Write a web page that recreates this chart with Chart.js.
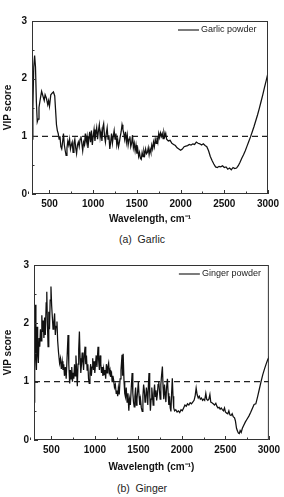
<!DOCTYPE html>
<html>
<head>
<meta charset="utf-8">
<script src="https://cdn.jsdelivr.net/npm/chart.js@4.4.1/dist/chart.umd.min.js"></script>
<style>
  html, body { margin: 0; padding: 0; background: #fff; }
  .page { position: relative; width: 284px; height: 497px; overflow: hidden; }
  .panel { position: absolute; left: 0; width: 284px; height: 228px; }
  .caption {
    position: absolute; left: 0; width: 284px; text-align: center;
    font: 10.5px 'Liberation Sans', Arial, sans-serif; color: #222; line-height: 12px;
    white-space: pre;
  }
</style>
</head>
<body>
<div class="page">
  <div class="panel" style="top:0"><canvas id="garlicChart"></canvas></div>
  <div class="caption" style="top:233px">(a)  Garlic</div>
  <div class="panel" style="top:250px"><canvas id="gingerChart"></canvas></div>
  <div class="caption" style="top:482px">(b)  Ginger</div>
</div>
<script>
// tick labels
const xTicks = [500, 1000, 1500, 2000, 2500, 3000];
const yTicks = [0, 1, 2, 3];
const threshold = 1;

// garlic powder VIP scores
const garlicWn = [
  300, 310, 320, 330, 340, 350, 360, 370, 380, 395, 410, 425, 440, 450, 465, 480, 490, 500, 515, 530,
  545, 560, 570, 580, 590, 600, 610, 620, 630, 640, 650, 660, 670, 680, 690, 700, 710, 720, 730, 740,
  750, 760, 770, 780, 790, 800, 810, 820, 830, 840, 850, 860, 870, 880, 890, 900, 910, 920, 930, 940,
  950, 960, 970, 980, 990, 1000, 1010, 1020, 1030, 1040, 1050, 1060, 1070, 1080, 1090, 1100, 1110, 1120, 1130, 1140,
  1150, 1160, 1170, 1180, 1190, 1200, 1210, 1220, 1230, 1240, 1250, 1260, 1270, 1280, 1290, 1300, 1310, 1320, 1330, 1340,
  1350, 1360, 1370, 1380, 1390, 1400, 1410, 1420, 1430, 1440, 1450, 1460, 1470, 1480, 1490, 1500, 1510, 1520, 1530, 1540,
  1550, 1560, 1570, 1580, 1590, 1600, 1610, 1620, 1630, 1640, 1650, 1660, 1670, 1680, 1690, 1700, 1710, 1720, 1730, 1740,
  1750, 1760, 1770, 1780, 1790, 1800, 1810, 1820, 1830, 1840, 1860, 1880, 1900, 1920, 1940, 1960, 1980, 2000, 2020, 2040,
  2060, 2080, 2100, 2120, 2140, 2160, 2180, 2200, 2220, 2240, 2260, 2280, 2300, 2320, 2340, 2360, 2380, 2400, 2420, 2440,
  2460, 2480, 2500, 2520, 2540, 2560, 2580, 2600, 2620, 2640, 2660, 2680, 2700, 2720, 2740, 2760, 2780, 2800, 2820, 2840,
  2860, 2880, 2900, 2920, 2940, 2960, 2980, 3000
];
const garlicVip = [
  0.95, 1.5, 2.2, 2.4, 2.2, 1.6, 1.25, 1.3, 1.5, 1.65, 1.78, 1.7, 1.62, 1.72, 1.66, 1.55, 1.62, 1.52, 1.72, 1.75,
  1.77, 1.7, 1.45, 1.2, 1.1, 1.05, 0.95, 1.0, 0.82, 0.78, 0.9, 1.05, 0.85, 0.75, 0.67, 0.8, 0.92, 0.85, 0.95, 0.78,
  0.85, 0.9, 0.72, 0.88, 0.95, 0.8, 0.7, 0.85, 0.9, 0.82, 0.95, 1.0, 0.88, 0.75, 0.9, 0.85, 1.05, 0.9, 1.0, 0.8,
  0.95, 1.08, 0.9, 1.1, 0.85, 1.0, 1.12, 0.92, 1.05, 1.15, 0.95, 1.1, 1.2, 0.98, 1.08, 0.92, 1.15, 1.22, 1.0, 0.9,
  1.05, 1.15, 0.95, 1.02, 0.78, 0.9, 1.05, 0.88, 1.0, 1.1, 0.95, 1.05, 0.85, 0.95, 0.82, 0.9, 1.0, 1.08, 1.2, 1.12,
  1.05, 0.95, 1.08, 0.9, 1.02, 0.85, 0.95, 1.0, 0.82, 0.88, 1.02, 0.8, 0.88, 0.75, 0.85, 0.7, 0.78, 0.65, 0.72, 0.62,
  0.6, 0.72, 0.65, 0.75, 0.68, 0.78, 0.7, 0.72, 0.8, 0.68, 0.78, 0.72, 0.85, 0.78, 0.9, 0.82, 0.95, 0.88, 0.98, 0.9,
  1.05, 0.98, 1.06, 1.0, 1.05, 0.96, 1.07, 1.0, 1.05, 0.95, 0.92, 0.93, 0.88, 0.86, 0.84, 0.8, 0.78, 0.76, 0.78, 0.82,
  0.83, 0.84, 0.86, 0.85, 0.87, 0.86, 0.9, 0.88, 0.87, 0.85, 0.87, 0.84, 0.82, 0.75, 0.65, 0.58, 0.52, 0.47, 0.46, 0.48,
  0.47, 0.49, 0.46, 0.47, 0.43, 0.45, 0.42, 0.46, 0.44, 0.45, 0.49, 0.55, 0.62, 0.68, 0.75, 0.83, 0.91, 0.99, 1.08, 1.17,
  1.27, 1.37, 1.48, 1.6, 1.72, 1.85, 1.97, 2.1
];

// ginger powder VIP scores
const gingerWn = [
  300, 308, 315, 322, 328, 335, 342, 350, 358, 366, 374, 382, 390, 398, 406, 414, 422, 430, 440, 447,
  454, 462, 470, 478, 486, 495, 503, 511, 519, 527, 537, 545, 553, 564, 572, 582, 594, 604, 614, 624,
  633, 642, 650, 660, 670, 680, 691, 700, 710, 718, 726, 734, 742, 750, 758, 766, 774, 782, 790, 798,
  806, 814, 822, 830, 838, 846, 854, 862, 870, 878, 887, 895, 903, 911, 919, 927, 935, 943, 951, 959,
  967, 975, 983, 991, 999, 1007, 1015, 1023, 1036, 1044, 1052, 1060, 1068, 1076, 1084, 1092, 1100, 1108, 1116, 1124,
  1132, 1140, 1148, 1158, 1166, 1174, 1182, 1190, 1198, 1207, 1215, 1225, 1235, 1245, 1254, 1262, 1270, 1280, 1290, 1300,
  1312, 1318, 1325, 1335, 1343, 1351, 1360, 1370, 1380, 1390, 1398, 1408, 1418, 1428, 1436, 1444, 1452, 1460, 1468, 1476,
  1484, 1492, 1500, 1508, 1516, 1524, 1534, 1544, 1552, 1560, 1568, 1576, 1584, 1592, 1600, 1608, 1614, 1622, 1630, 1638,
  1646, 1654, 1662, 1670, 1678, 1686, 1694, 1702, 1710, 1718, 1726, 1734, 1742, 1750, 1758, 1766, 1776, 1784, 1792, 1800,
  1808, 1816, 1824, 1834, 1842, 1850, 1858, 1866, 1874, 1882, 1890, 1898, 1906, 1916, 1930, 1945, 1960, 1975, 1990, 2005,
  2020, 2035, 2050, 2065, 2080, 2095, 2110, 2125, 2140, 2152, 2164, 2175, 2188, 2200, 2212, 2225, 2238, 2250, 2262, 2275,
  2285, 2298, 2310, 2322, 2332, 2345, 2360, 2375, 2390, 2402, 2415, 2428, 2440, 2452, 2465, 2478, 2490, 2500, 2515, 2528,
  2540, 2552, 2565, 2578, 2590, 2605, 2615, 2628, 2640, 2650, 2660, 2670, 2682, 2695, 2710, 2730, 2750, 2770, 2790, 2810,
  2830, 2850, 2870, 2890, 2910, 2930, 2950, 2970, 2990, 3000
];
const gingerVip = [
  0.65, 1.6, 2.32, 1.4, 1.2, 1.94, 1.5, 1.32, 1.75, 1.6, 1.9, 1.7, 2.14, 1.85, 2.05, 1.75, 2.1, 1.8, 2.35, 2.54,
  2.0, 1.6, 2.2, 1.9, 2.4, 2.63, 2.3, 2.1, 1.9, 2.0, 2.17, 1.8, 1.95, 2.03, 1.7, 1.5, 1.32, 1.4, 1.22, 1.35,
  1.2, 1.3, 1.1, 1.25, 1.05, 1.4, 1.8, 1.3, 0.97, 1.2, 1.05, 1.25, 1.0, 1.15, 1.05, 1.3, 1.1, 1.45, 1.2, 0.92,
  1.3, 1.55, 1.86, 1.4, 1.15, 1.3, 1.5, 1.35, 1.2, 1.45, 1.6, 1.3, 1.45, 1.2, 1.3, 1.05, 0.97, 1.15, 1.3, 1.1,
  1.25, 1.4, 1.2, 1.35, 1.15, 1.3, 1.45, 1.25, 1.6, 1.35, 1.2, 1.45, 1.3, 1.15, 1.25, 1.1, 1.22, 1.12, 1.2, 1.05,
  1.3, 1.15, 1.25, 1.32, 1.15, 1.2, 1.08, 1.18, 1.0, 1.1, 1.03, 0.9, 0.95, 0.8, 0.85, 0.75, 0.9, 0.78, 1.05, 1.2,
  1.46, 1.1, 1.48, 1.0, 0.8, 0.74, 0.9, 0.65, 0.8, 0.5, 0.7, 0.6, 0.9, 1.15, 0.8, 0.65, 0.57, 0.75, 0.9, 0.6,
  0.7, 0.85, 1.0, 0.75, 0.6, 0.7, 0.55, 0.49, 0.75, 0.95, 0.85, 0.65, 0.7, 0.9, 0.8, 0.6, 0.9, 1.15, 0.8, 0.5,
  0.7, 0.9, 0.75, 0.6, 0.8, 0.95, 0.75, 0.85, 0.68, 0.78, 0.95, 1.0, 0.85, 0.7, 0.95, 1.1, 1.26, 0.9, 0.7, 0.95,
  0.8, 0.65, 0.9, 1.05, 0.8, 0.6, 0.75, 0.55, 0.49, 0.8, 1.06, 0.75, 0.55, 0.5, 0.52, 0.48, 0.5, 0.47, 0.52, 0.5,
  0.55, 0.6, 0.58, 0.62, 0.6, 0.64, 0.62, 0.65, 0.68, 0.75, 0.89, 0.78, 0.72, 0.75, 0.7, 0.72, 0.68, 0.7, 0.68, 0.8,
  0.7, 0.68, 0.7, 0.78, 0.65, 0.64, 0.62, 0.6, 0.63, 0.58, 0.55, 0.56, 0.53, 0.55, 0.52, 0.5, 0.55, 0.48, 0.46, 0.45,
  0.5, 0.43, 0.42, 0.45, 0.4, 0.38, 0.33, 0.2, 0.15, 0.12, 0.11, 0.16, 0.13, 0.2, 0.25, 0.31, 0.36, 0.41, 0.47, 0.54,
  0.61, 0.62, 0.74, 0.87, 1.0, 1.12, 1.22, 1.31, 1.39, 1.43
];

Chart.defaults.font.family = "'Liberation Sans', Arial, sans-serif";
Chart.defaults.color = '#111';

// box around the plot, inward ticks, and the small legend in the top-right corner
const framePlugin = {
  id: 'frame',
  afterDatasetsDraw(chart, args, opts) {
    const { ctx, chartArea: a, scales: { x, y } } = chart;
    ctx.save();
    ctx.strokeStyle = '#333';
    ctx.lineWidth = 1;
    ctx.strokeRect(a.left + 0.5, a.top + 0.5, a.width - 1, a.height - 1);

    ctx.beginPath();
    xTicks.forEach(v => {
      const px = Math.round(x.getPixelForValue(v)) + 0.5;
      ctx.moveTo(px, a.bottom); ctx.lineTo(px, a.bottom - 4);
      const mx = Math.round(x.getPixelForValue(v - 250)) + 0.5;
      ctx.moveTo(mx, a.bottom); ctx.lineTo(mx, a.bottom - 2.5);
    });
    yTicks.forEach(v => {
      const py = Math.round(y.getPixelForValue(v)) + 0.5;
      ctx.moveTo(a.left, py); ctx.lineTo(a.left + 4, py);
      if (v > 0) {
        const my = Math.round(y.getPixelForValue(v - 0.5)) + 0.5;
        ctx.moveTo(a.left, my); ctx.lineTo(a.left + 2.5, my);
      }
    });
    ctx.stroke();

    const ly = a.top + 9;
    ctx.strokeStyle = '#111';
    ctx.lineWidth = 1.1;
    ctx.beginPath();
    ctx.moveTo(a.right - 90, ly); ctx.lineTo(a.right - 69, ly);
    ctx.stroke();
    ctx.fillStyle = '#222';
    ctx.font = "9px 'Liberation Sans', Arial, sans-serif";
    ctx.textBaseline = 'middle';
    ctx.fillText(opts.label, a.right - 67, ly);
    ctx.restore();
  }
};

function makeChart(id, wn, vip, label, xTitle, geo) {
  return new Chart(document.getElementById(id), {
    type: 'line',
    data: {
      datasets: [
        {
          data: wn.map((w, i) => ({ x: w, y: vip[i] })),
          borderColor: '#111',
          borderWidth: 1.25,
          pointRadius: 0,
          tension: 0
        },
        {
          data: [{ x: 300, y: threshold }, { x: 3000, y: threshold }],
          borderColor: '#222',
          borderWidth: 1.4,
          borderDash: [6, 4],
          pointRadius: 0
        }
      ]
    },
    options: {
      responsive: true,
      maintainAspectRatio: false,
      animation: false,
      layout: { padding: { top: geo.top, right: geo.right, left: 0, bottom: 0 } },
      plugins: {
        legend: { display: false },
        tooltip: { enabled: false },
        frame: { label }
      },
      scales: {
        x: {
          type: 'linear',
          min: 300,
          max: 3000,
          afterBuildTicks: s => { s.ticks = xTicks.map(v => ({ value: v })); },
          afterFit: s => { s.height = geo.xHeight; },
          grid: { display: false, drawTicks: false },
          border: { display: false },
          ticks: {
            padding: 4,
            font: { size: 10, weight: 'bold' },
            color: '#111',
            maxRotation: 0,
            callback: v => String(v)
          },
          title: {
            display: true,
            text: xTitle,
            font: { size: 10, weight: 'bold' },
            color: '#111',
            padding: { top: 0, bottom: geo.titlePad }
          }
        },
        y: {
          min: 0,
          max: 3,
          afterBuildTicks: s => { s.ticks = yTicks.map(v => ({ value: v })); },
          afterFit: s => { s.width = geo.yWidth; },
          grid: { display: false, drawTicks: false },
          border: { display: false },
          ticks: { padding: 5, font: { size: 10, weight: 'bold' }, color: '#111', callback: v => String(v) },
          title: {
            display: true,
            text: 'VIP score',
            font: { size: 10, weight: 'bold' },
            color: '#111',
            padding: { top: 2, bottom: 0 }
          }
        }
      }
    },
    plugins: [framePlugin]
  });
}

makeChart('garlicChart', garlicWn, garlicVip, 'Garlic powder', 'Wavelength, cm\u207B\u00B9',
  { top: 21, right: 16, xHeight: 34, yWidth: 32, titlePad: 3 });
makeChart('gingerChart', gingerWn, gingerVip, 'Ginger powder', 'Wavelength (cm\u207B\u00B9)',
  { top: 15, right: 15, xHeight: 38, yWidth: 34, titlePad: 5 });
</script>
</body>
</html>
